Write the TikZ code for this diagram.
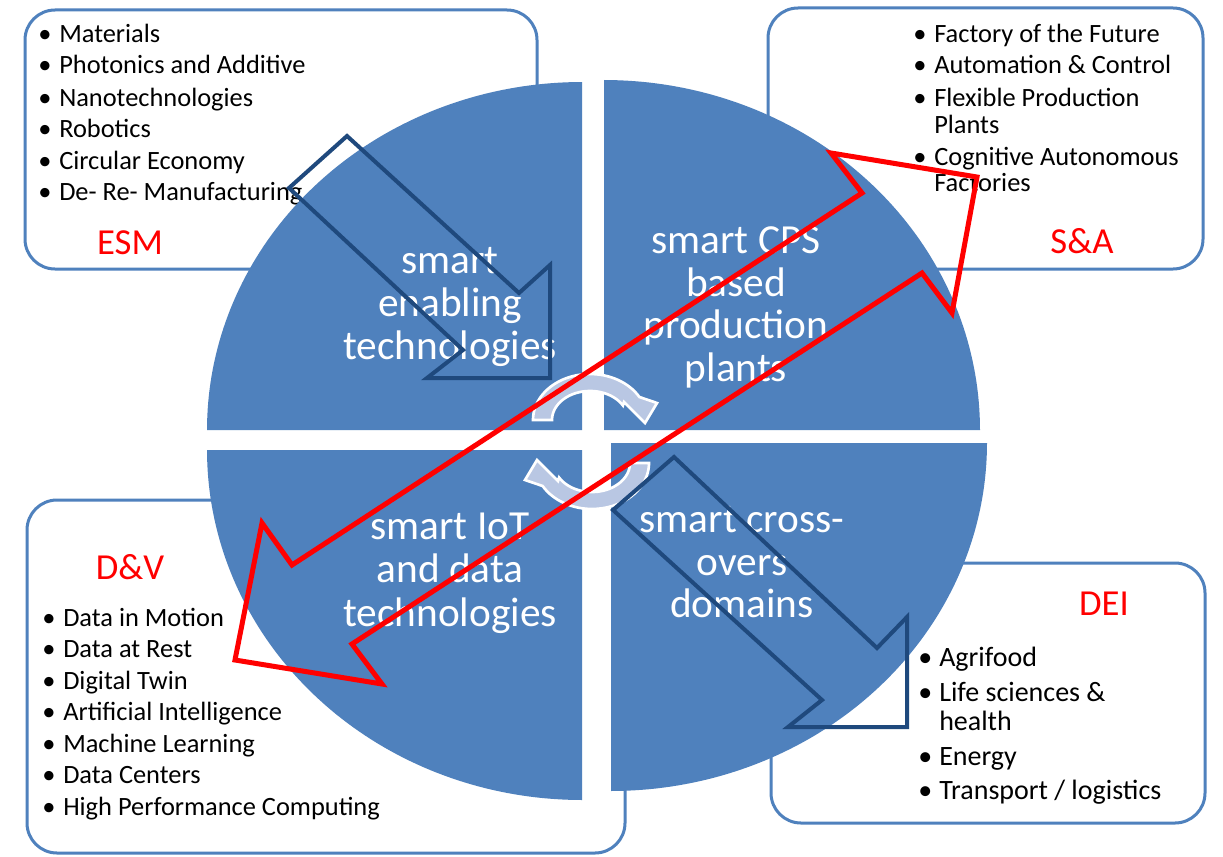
\documentclass[tikz,border=0pt]{standalone}
\usepackage{fontspec}
\setmainfont{Carlito}
\definecolor{qblue}{HTML}{4F81BD}
\definecolor{dblue}{HTML}{1F497D}
\definecolor{cyc}{HTML}{B9C7E3}
\newcommand\bitem[1]{\makebox[15.75pt][l]{\textbullet}#1}
\tikzset{
  box/.style={draw=qblue, line width=2.25pt, fill=white, rounded corners=22.5pt},
  quad/.style={fill=qblue},
  li/.style={anchor=base west, inner sep=0pt, font=\fontsize{19.8pt}{24pt}\selectfont},
  lidei/.style={anchor=base west, inner sep=0pt, font=\fontsize{21pt}{25pt}\selectfont},
  lab/.style={anchor=base, inner sep=0pt, text=red, font=\fontsize{27.5pt}{33pt}\selectfont},
  qtext/.style={anchor=base, inner sep=0pt, text=white, font=\fontsize{31pt}{36pt}\selectfont},
  bluearrow/.style={draw=dblue, line width=3pt, line join=miter},
  redarrow/.style={draw=red, line width=3.75pt, line join=miter},
  cycarrow/.style={fill=cyc, draw=white, line width=2pt, line join=miter},
}
\begin{document}
\begin{tikzpicture}[x=0.75pt, y=-0.75pt]
\useasboundingbox (0,0) rectangle (1223,856);
\fill[white] (0,0) rectangle (1223,856);

% ---- corner boxes
\draw[box] (25,10) rectangle (537,269);
\draw[box] (768,8) rectangle (1203,269);
\draw[box] (27,500) rectangle (625,853);
\draw[box] (771,563) rectangle (1205,823);

% ---- ESM list
\node[li] (e1) at (38,43)  {\bitem{Materials}};
\node[li] (e2) at (38,74)  {\bitem{Photonics and Additive}};
\node[li] (e3) at (38,106) {\bitem{Nanotechnologies}};
\node[li] (e4) at (38,137) {\bitem{Robotics}};
\node[li] (e5) at (38,169) {\bitem{Circular Economy}};
\node[li] (e6) at (38,200) {\bitem{De- Re- Manufacturing}};
\node[lab] (esm) at (130,254) {ESM};

% ---- S&A list
\node[li] (s1) at (913,43)  {\bitem{Factory of the Future}};
\node[li] (s2) at (913,74)  {\bitem{Automation \& Control}};
\node[li] (s3) at (913,106) {\bitem{Flexible Production}};
\node[li] (s3b) at (934,133) {Plants};
\node[li] (s4) at (913,165) {\bitem{Cognitive Autonomous}};
\node[li] (s4b) at (934,191) {Factories};
\node[lab] (sa) at (1082,253) {S\&A};

% ---- D&V list
\node[lab] (dv) at (130,579) {D\&V};
\node[li] (d1) at (42,626) {\bitem{Data in Motion}};
\node[li] (d2) at (42,657) {\bitem{Data at Rest}};
\node[li] (d3) at (42,689) {\bitem{Digital Twin}};
\node[li] (d4) at (42,720) {\bitem{Artificial Intelligence}};
\node[li] (d5) at (42,752) {\bitem{Machine Learning}};
\node[li] (d6) at (42,783) {\bitem{Data Centers}};
\node[li] (d7) at (42,815) {\bitem{High Performance Computing}};

% ---- DEI list
\node[lab] (dei) at (1104,615) {DEI};
\node[lidei] (i1) at (918,666) {\bitem{Agrifood}};
\node[lidei] (i2) at (918,701) {\bitem{Life sciences \&}};
\node[lidei] (i2b) at (939,730) {health};
\node[lidei] (i3) at (918,765) {\bitem{Energy}};
\node[lidei] (i4) at (918,799) {\bitem{Transport / logistics}};

% ---- quadrants
\fill[quad] (582,430) -- plot[domain=180:270, samples=80] ({582+375*cos(\x)},{430+348*sin(\x)}) -- cycle;
\fill[quad] (604,430) -- plot[domain=270:360, samples=80] ({604+376*cos(\x)},{430+350*sin(\x)}) -- cycle;
\fill[quad] (582,450) -- plot[domain=90:180, samples=80] ({582+375*cos(\x)},{450+350*sin(\x)}) -- cycle;
\fill[quad] (611,443) -- plot[domain=0:90, samples=80] ({611+376*cos(\x)},{443+348*sin(\x)}) -- cycle;

% ---- quadrant texts
\node[qtext] (tl1) at (450,273) {smart};
\node[qtext] (tl2) at (450,316) {enabling};
\node[qtext] (tl3) at (450,359) {technologies};
\node[qtext] (tr1) at (736,253) {smart CPS};
\node[qtext] (tr2) at (736,296) {based};
\node[qtext] (tr3) at (736,338) {production};
\node[qtext] (tr4) at (736,381) {plants};
\node[qtext] (bl1) at (450,539) {smart IoT};
\node[qtext] (bl2) at (450,582) {and data};
\node[qtext] (bl3) at (450,626) {technologies};
\node[qtext] (br1) at (742,532) {smart cross-};
\node[qtext] (br2) at (742,575) {overs};
\node[qtext] (br3) at (742,617) {domains};

% ---- cycle arrows in the centre
\path[cycarrow] (552,420) -- (533,420)
  -- plot[domain=180:330, samples=40] ({590+57*cos(\x)},{420+46*sin(\x)})
  -- (657,403) -- (645,423) -- (624,402)
  -- plot[domain=330:180, samples=40] ({590+38*cos(\x)},{420+29*sin(\x)}) -- cycle;
\begin{scope}[rotate around={180:(591,441.5)}]
\path[cycarrow] (552,420) -- (533,420)
  -- plot[domain=180:330, samples=40] ({590+57*cos(\x)},{420+46*sin(\x)})
  -- (657,403) -- (645,423) -- (624,402)
  -- plot[domain=330:180, samples=40] ({590+38*cos(\x)},{420+29*sin(\x)}) -- cycle;
\end{scope}

% ---- blue outline arrows
\draw[bluearrow] (347,136) -- (519,293) -- (550,265) -- (550,378) -- (427,378) -- (463,350) -- (289,188) -- cycle;
\draw[bluearrow] (674,457) -- (877,648) -- (907,617) -- (907,727) -- (788,727) -- (822,700) -- (613,510) -- cycle;

% ---- red double arrow
\draw[redarrow] (292,565) -- (862,193) -- (831,153) -- (977,177) -- (952,313) -- (922,273)
  -- (352,644) -- (382,684) -- (235,660) -- (262,523) -- cycle;
\end{tikzpicture}
\end{document}
